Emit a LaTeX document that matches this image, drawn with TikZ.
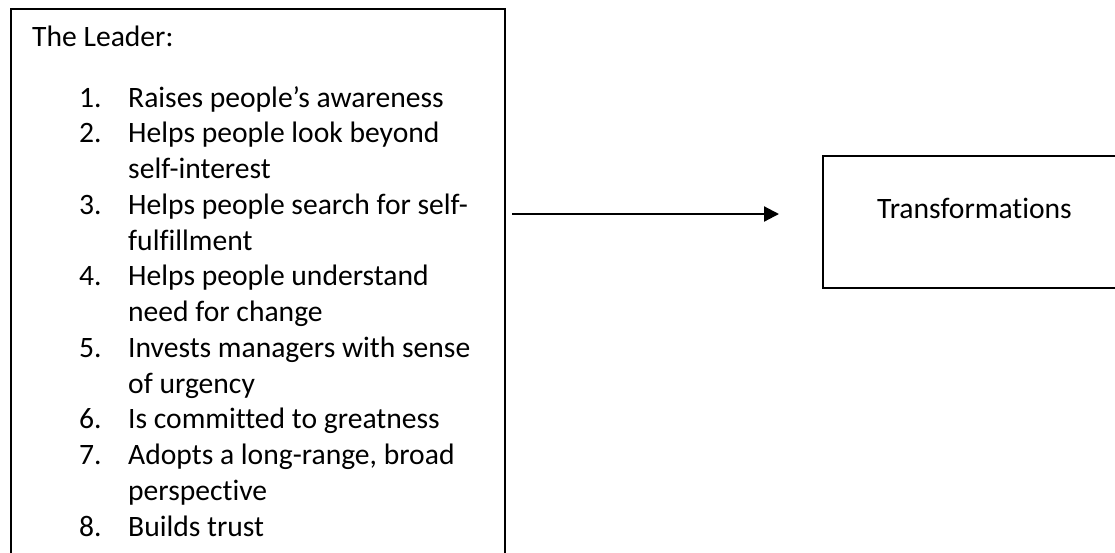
\documentclass[tikz,border=0pt]{standalone}
\usepackage{fontspec}
\setmainfont{Carlito}[Ligatures={NoCommon}]
\usetikzlibrary{arrows.meta}
\begin{document}
\begin{tikzpicture}[x=1pt,y=-1pt,
  box/.style={draw=black,line width=1.8pt,inner sep=0pt},
  txt/.style={anchor=base west,inner sep=0pt,font=\fontsize{29.6}{35}\selectfont},
  conn/.style={line width=2.2pt,-{Triangle[length=15pt,width=15pt]}}]
\useasboundingbox (0,0) rectangle (1115,552);
\clip (0,0) rectangle (1115,552);
\fill[white] (0,0) rectangle (1115,552);
% boxes
\draw[box] (11,9) rectangle (505,580);
\coordinate (lb) at (505,214);
\node[box,minimum width=310pt,minimum height=132pt,anchor=north west] (rb) at (822,155) {};
% texts
\node[txt] (title) at (32,46) {The Leader:};
\def\ys{35.75}
\node[txt] (n1) at (79,107) {1.};
\node[txt] (t1) at (128,107) {Raises people’s awareness};
\node[txt] (n2) at (79,107+1*\ys) {2.};
\node[txt] (t2) at (128,107+1*\ys) {Helps people look beyond};
\node[txt] (t2b) at (128,107+2*\ys) {self-interest};
\node[txt] (n3) at (79,107+3*\ys) {3.};
\node[txt] (t3) at (128,107+3*\ys) {Helps people search for self-};
\node[txt] (t3b) at (128,107+4*\ys) {fulfillment};
\node[txt] (n4) at (79,107+5*\ys) {4.};
\node[txt] (t4) at (128,107+5*\ys) {Helps people understand};
\node[txt] (t4b) at (128,107+6*\ys) {need for change};
\node[txt] (n5) at (79,107+7*\ys) {5.};
\node[txt] (t5) at (128,107+7*\ys) {Invests managers with sense};
\node[txt] (t5b) at (128,107+8*\ys) {of urgency};
\node[txt] (n6) at (79,107+9*\ys) {6.};
\node[txt] (t6) at (128,107+9*\ys) {Is committed to greatness};
\node[txt] (n7) at (79,107+10*\ys) {7.};
\node[txt] (t7) at (128,107+10*\ys) {Adopts a long-range, broad};
\node[txt] (t7b) at (128,107+11*\ys) {perspective};
\node[txt] (n8) at (79,107+12*\ys) {8.};
\node[txt] (t8) at (128,107+12*\ys) {Builds trust};
\node[txt,anchor=base] (tr) at (974.5,218) {Transformations};
% arrow
\coordinate (ae) at (779,214);
\draw[conn,shorten <=7pt] (lb) -- (ae);
\end{tikzpicture}
\end{document}
